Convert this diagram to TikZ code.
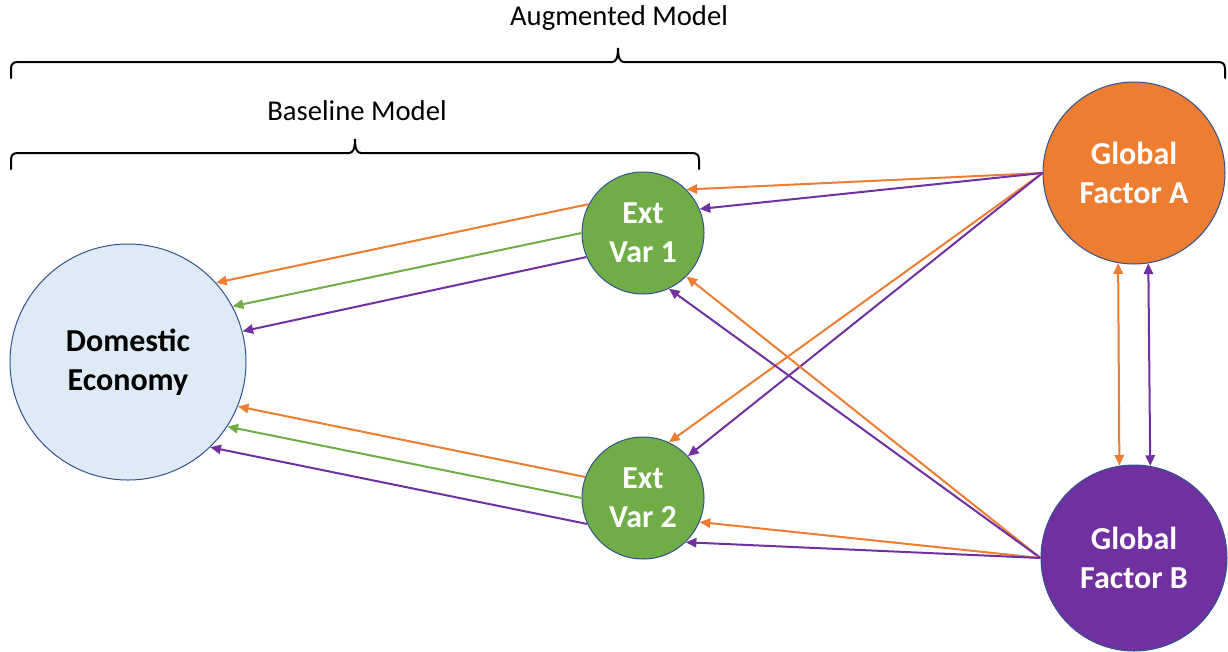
\documentclass[tikz,border=0pt]{standalone}
\usepackage{fontspec}
\setmainfont{Carlito}
\usetikzlibrary{arrows.meta}

\definecolor{orng}{HTML}{ED7D31}
\definecolor{grn}{HTML}{70AD47}
\definecolor{purp}{HTML}{7030A0}
\definecolor{paleblue}{HTML}{DEEBF7}
\definecolor{rim}{HTML}{2F528F}

% curly brace: #1 left x, #2 tip x, #3 right x, #4 y of the long stroke
\newcommand{\drawbrace}[4]{%
  \draw[bracepen] (#1,#4+16) -- (#1,#4+7)
    .. controls (#1,#4+2) and (#1+2,#4) .. (#1+7,#4)
    -- (#2-6,#4)
    .. controls (#2-2,#4) and (#2,#4-4) .. (#2,#4-14)
    .. controls (#2,#4-4) and (#2+2,#4) .. (#2+6,#4)
    -- (#3-7,#4)
    .. controls (#3-2,#4) and (#3,#4+2) .. (#3,#4+7)
    -- (#3,#4+16);}

\tikzset{
  bracepen/.style={line width=1.5pt, black, line cap=round},
  heading/.style={font=\fontsize{21.5}{26}\selectfont, text=black},
  bubble/.style={circle, draw=rim, line width=0.75pt, inner sep=0pt,
    align=center, font=\bfseries\fontsize{24}{29.25}\selectfont},
  conn/.style={line width=1.5pt, -{Triangle[length=8pt,width=7pt]}},
  biconn/.style={line width=1.5pt, {Triangle[length=8pt,width=7pt]}-{Triangle[length=8pt,width=7pt]}},
}

\begin{document}
\begin{tikzpicture}[x=0.75pt, y=-0.75pt]
\useasboundingbox (0,0) rectangle (1228,651);

% brackets and their titles
\node[heading] (augtitle) at (619,18) {Augmented Model};
\drawbrace{11}{618}{1225}{62}
\node[heading] (basetitle) at (357,111) {Baseline Model};
\drawbrace{11}{355}{699}{153}

% variables
\node[bubble, fill=paleblue, text=black, minimum size=177pt] (dom) at (128,362) {Domestic\\Economy};
\node[bubble, fill=grn, text=white, minimum size=91.5pt] (ext1) at (643,233) {Ext\\Var 1};
\node[bubble, fill=grn, text=white, minimum size=91.5pt] (ext2) at (643,498) {Ext\\Var 2};
\node[bubble, fill=orng, text=white, minimum size=136.5pt] (gfa) at (1134,173) {Global\\Factor A};
\node[bubble, fill=purp, text=white, minimum size=139.5pt] (gfb) at (1134,558) {Global\\Factor B};

% external variables feeding the domestic economy
\draw[conn, orng] (ext1.152.6) -- (dom.42.9);
\draw[conn, grn]  (ext1.180)   -- (dom.28.8);
\draw[conn, purp] (ext1.203.7) -- (dom.15.9);

\draw[conn, orng] (ext2.160.1) -- (dom.-22.3);
\draw[conn, grn]  (ext2.180)   -- (dom.-33.2);
\draw[conn, purp] (ext2.205.3) -- (dom.-46.3);

% global factors feeding the external variables
\draw[conn, orng] (gfa.180) -- (ext1.45);
\draw[conn, purp] (gfa.180) -- (ext1.23);
\draw[conn, orng] (gfa.180) -- (ext2.65.9);
\draw[conn, purp] (gfa.180) -- (ext2.43.7);

\draw[conn, orng] (gfb.180) -- (ext1.-45);
\draw[conn, purp] (gfb.180) -- (ext1.-65.8);
\draw[conn, orng] (gfb.180) -- (ext2.-23.8);
\draw[conn, purp] (gfb.180) -- (ext2.-46.8);

% links between the two global factors
\draw[biconn, orng] (gfa.260.5) -- (gfb.99.3);
\draw[biconn, purp] (gfa.279.5) -- (gfb.80.7);
\end{tikzpicture}
\end{document}
